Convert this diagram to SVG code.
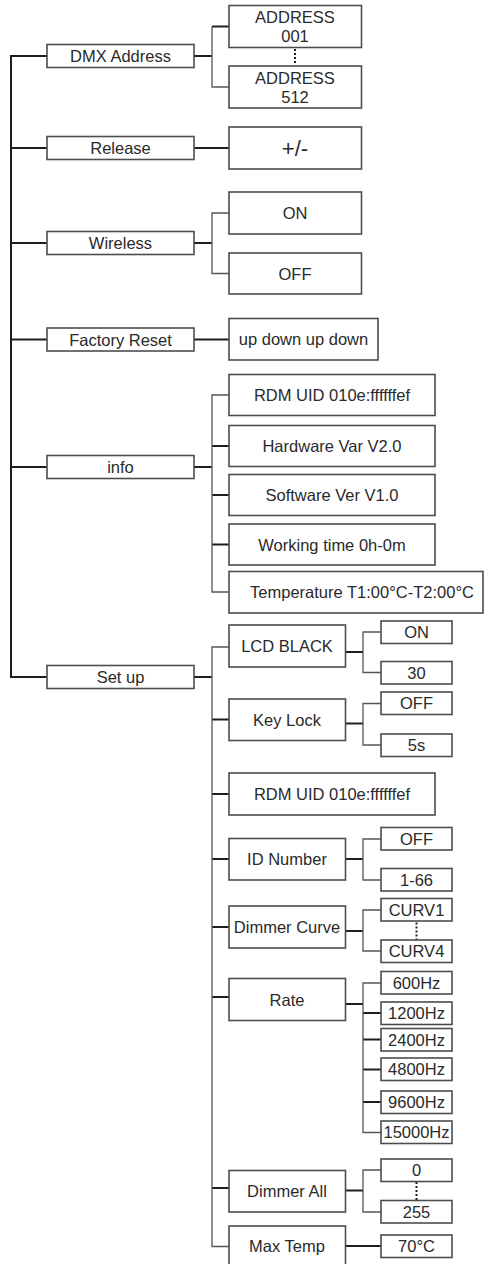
<svg xmlns="http://www.w3.org/2000/svg" width="484" height="1264" viewBox="0 0 484 1264">
<style>
rect{fill:#fff;stroke:#4d4d4d;stroke-width:1.6}
text{font-family:"Liberation Sans",Arial,sans-serif;font-size:16.5px;fill:#2a2a2a;text-anchor:middle}
.k{fill:none;stroke:#1e1e1e;stroke-width:2}
.t{fill:none;stroke:#555;stroke-width:1.3}
.d{fill:none;stroke:#1e1e1e;stroke-width:2;stroke-dasharray:2 2}
</style>
<rect x="0" y="0" width="484" height="1264" style="fill:#fff;stroke:none"/>
<g id="connectors">
<path class="k" d="M47,56 H11 V677 H47 M11,148 H47 M11,243 H47 M11,339.5 H47 M11,467 H47"/>
<path class="k" d="M194,56 H212 M212,26.5 H229"/>
<path class="t" d="M212,26.5 V87 H229"/>
<path class="k" d="M194,148 H229"/>
<path class="k" d="M194,243 H212"/>
<path class="t" d="M229,213 H212 V273.5 H229"/>
<path class="k" d="M194,339.5 H229"/>
<path class="k" d="M194,467 H212 M212,446 H229 M212,495 H229 M212,544.5 H229"/>
<path class="t" d="M229,395 H212 V592 H229"/>
<path class="k" d="M194,677 H212 M212,719.5 H229 M212,794 H229 M212,859 H229 M212,927 H229 M212,997 H229 M212,1188 H229"/>
<path class="t" d="M229,647 H212 V1246.5 H229"/>
<path class="k" d="M345.5,652 H363"/>
<path class="t" d="M381,632 H363 V672.5 H381"/>
<path class="k" d="M345.5,723.5 H363"/>
<path class="t" d="M381,703.5 H363 V745 H381"/>
<path class="k" d="M345.5,859 H363"/>
<path class="t" d="M381,839 H363 V880 H381"/>
<path class="k" d="M345.5,931 H363"/>
<path class="t" d="M381,910 H363 V951 H381"/>
<path class="k" d="M345.5,1004 H363 M363,1013 H381 M363,1039.5 H381 M363,1069.5 H381 M363,1102 H381"/>
<path class="t" d="M381,983 H363 V1132.5 H381"/>
<path class="k" d="M345.5,1190.5 H363"/>
<path class="t" d="M381,1170 H363 V1212 H381"/>
<path class="k" d="M345.5,1246 H381"/>
<path class="d" d="M295,49 V64 M416.5,922.5 V940 M416.5,1182 V1200"/>
</g>
<g id="dmx"><rect x="47" y="44.5" width="147" height="23"/><text x="120.5" y="62">DMX Address</text></g>
<g id="release"><rect x="47" y="136.5" width="147" height="23"/><text x="120.5" y="154">Release</text></g>
<g id="wireless"><rect x="47" y="231.5" width="147" height="23"/><text x="120.5" y="249">Wireless</text></g>
<g id="factory"><rect x="47" y="328" width="147" height="23"/><text x="120.5" y="345.5">Factory Reset</text></g>
<g id="info"><rect x="47" y="455.5" width="147" height="23"/><text x="120.5" y="473">info</text></g>
<g id="setup"><rect x="47" y="665.5" width="147" height="23"/><text x="120.5" y="683">Set up</text></g>

<g id="addr001"><rect x="229" y="5.5" width="132.5" height="42"/><text x="295" y="23.3">ADDRESS</text><text x="295" y="42.3">001</text></g>
<g id="addr512"><rect x="229" y="66" width="132.5" height="42"/><text x="295" y="83.8">ADDRESS</text><text x="295" y="102.8">512</text></g>
<g id="plusminus"><rect x="229" y="127" width="132.5" height="42"/><text x="295" y="155.5" style="font-size:22px">+/-</text></g>
<g id="w-on"><rect x="229" y="192" width="132.5" height="42"/><text x="295" y="219">ON</text></g>
<g id="w-off"><rect x="229" y="253" width="132.5" height="41"/><text x="295" y="279.5">OFF</text></g>
<g id="updown"><rect x="229" y="318.5" width="149" height="41.5"/><text x="303.5" y="345">up down up down</text></g>
<g id="rdm1"><rect x="229" y="374.5" width="206" height="41"/><text x="332" y="401">RDM UID 010e:ffffffef</text></g>
<g id="hardware"><rect x="229" y="425.5" width="206" height="41"/><text x="332" y="452">Hardware Var V2.0</text></g>
<g id="software"><rect x="229" y="474.5" width="206" height="41"/><text x="332" y="501">Software Ver V1.0</text></g>
<g id="working"><rect x="229" y="524" width="206" height="41"/><text x="332" y="550.5">Working time 0h-0m</text></g>
<g id="temperature"><rect x="229" y="571.5" width="254" height="41.5"/><text x="362" y="598">Temperature T1:00°C-T2:00°C</text></g>

<g id="lcd"><rect x="229" y="625" width="116.5" height="42"/><text x="287" y="652">LCD BLACK</text></g>
<g id="keylock"><rect x="229" y="699" width="116.5" height="41.5"/><text x="287" y="725.5">Key Lock</text></g>
<g id="rdm2"><rect x="229" y="773" width="206" height="42"/><text x="332" y="800">RDM UID 010e:ffffffef</text></g>
<g id="idnum"><rect x="229" y="838.5" width="116.5" height="41.5"/><text x="287" y="865">ID Number</text></g>
<g id="dimcurve"><rect x="229" y="906" width="116.5" height="42"/><text x="287" y="933">Dimmer Curve</text></g>
<g id="rate"><rect x="229" y="978.5" width="116.5" height="42"/><text x="287" y="1005.5">Rate</text></g>
<g id="dimall"><rect x="229" y="1170.5" width="116.5" height="41.5"/><text x="287" y="1197">Dimmer All</text></g>
<g id="maxtemp"><rect x="229" y="1226" width="116.5" height="42"/><text x="287" y="1252">Max Temp</text></g>

<g id="lcd-on"><rect x="381" y="621" width="71" height="22.5"/><text x="416.5" y="638">ON</text></g>
<g id="lcd-30"><rect x="381" y="661.5" width="71" height="22.5"/><text x="416.5" y="678.5">30</text></g>
<g id="kl-off"><rect x="381" y="692" width="71" height="22.5"/><text x="416.5" y="709">OFF</text></g>
<g id="kl-5s"><rect x="381" y="734" width="71" height="22.5"/><text x="416.5" y="751">5s</text></g>
<g id="id-off"><rect x="381" y="827.5" width="71" height="22.5"/><text x="416.5" y="844.5">OFF</text></g>
<g id="id-166"><rect x="381" y="868.5" width="71" height="22.5"/><text x="416.5" y="885.5">1-66</text></g>
<g id="curv1"><rect x="381" y="898.5" width="71" height="22.5"/><text x="416.5" y="915.5">CURV1</text></g>
<g id="curv4"><rect x="381" y="940" width="71" height="22.5"/><text x="416.5" y="957">CURV4</text></g>
<g id="r600"><rect x="381" y="971.5" width="71" height="22.5"/><text x="416.5" y="988.5">600Hz</text></g>
<g id="r1200"><rect x="381" y="1002" width="71" height="22.5"/><text x="416.5" y="1019">1200Hz</text></g>
<g id="r2400"><rect x="381" y="1028.5" width="71" height="22.5"/><text x="416.5" y="1045.5">2400Hz</text></g>
<g id="r4800"><rect x="381" y="1058" width="71" height="22.5"/><text x="416.5" y="1075">4800Hz</text></g>
<g id="r9600"><rect x="381" y="1091" width="71" height="22.5"/><text x="416.5" y="1108">9600Hz</text></g>
<g id="r15000"><rect x="381" y="1121" width="71" height="22.5"/><text x="416.5" y="1138">15000Hz</text></g>
<g id="da-0"><rect x="381" y="1159" width="71" height="22.5"/><text x="416.5" y="1176">0</text></g>
<g id="da-255"><rect x="381" y="1200.5" width="71" height="22.5"/><text x="416.5" y="1217.5">255</text></g>
<g id="mt-70"><rect x="381" y="1235" width="71" height="22.5"/><text x="416.5" y="1252">70°C</text></g>
</svg>
